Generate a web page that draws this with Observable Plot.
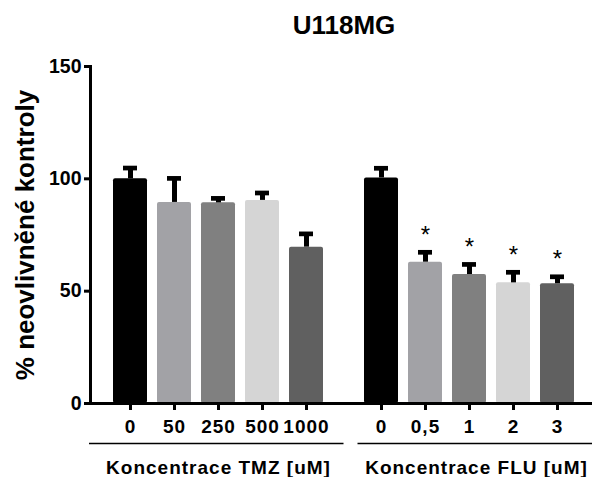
<!DOCTYPE html>
<html><head><meta charset="utf-8">
<script src="https://cdn.jsdelivr.net/npm/d3@7"></script>
<script src="https://cdn.jsdelivr.net/npm/@observablehq/plot@0.6"></script>
<style>
body{margin:0;background:#fff;}
#wrap{width:592px;font-family:"Liberation Sans",Arial,sans-serif;position:relative;}
#title{height:50px;line-height:50px;font-size:26px;font-weight:bold;text-align:center;padding-left:96px;box-sizing:border-box;width:592px;color:#000;position:relative;z-index:1;pointer-events:none;}
#chart{position:relative;z-index:0;}
g[aria-description="xlab"] text{letter-spacing:1px;}
</style></head><body>
<div id="wrap"><div id="title"></div><div id="chart"></div></div>
<script>
const title = "U118MG";
const yLabel = "% neovlivněné kontroly";
const groups = ["TMZ", "FLU"];
const groupLabels = ["Koncentrace TMZ [uM]", "Koncentrace FLU [uM]"];
const tmzLabels = ["0", "50", "250", "500", "1000"];
const tmzValues = [100, 89.5, 89.3, 90.4, 69.6];
const tmzErrors = [4.8, 10.7, 2.0, 3.3, 5.9];
const tmzStars = ["", "", "", "", ""];
const fluLabels = ["0", "0,5", "1", "2", "3"];
const fluValues = [100.4, 62.9, 57.4, 53.7, 53.3];
const fluErrors = [4.3, 4.4, 4.5, 4.7, 3.1];
const fluStars = ["", "*", "*", "*", "*"];
const yTicks = [0, 50, 100, 150];
const palette = ["#000000", "#a2a2a6", "#808080", "#d5d5d5", "#606060"];

document.getElementById("title").textContent = title;

function build(group, labels, values, errors, stars) {
  return labels.map((label, i) => ({group, slot: i, label, value: values[i], err: errors[i], star: stars[i], color: palette[i]}));
}
const rows = [
  ...build(groups[0], tmzLabels, tmzValues, tmzErrors, tmzStars),
  ...build(groups[1], fluLabels, fluValues, fluErrors, fluStars)
];
const groupRows = groups.map((g, i) => ({group: g, label: groupLabels[i]}));
const errTop = d => d.value + d.err;

const plot = Plot.plot({
  width: 592, height: 427,
  marginTop: 16, marginBottom: 74, marginLeft: 89, marginRight: 0,
  style: {fontFamily: "'Liberation Sans', Arial, sans-serif", fontWeight: "bold", color: "#000", background: "transparent", overflow: "visible"},
  fx: {domain: groups, paddingInner: 0, paddingOuter: 0, axis: null, label: null},
  x: {type: "band", domain: [0, 1, 2, 3, 4], paddingInner: 0.224, paddingOuter: 0, insetLeft: 22.5, insetRight: 17, label: null},
  y: {domain: [0, 150], label: null},
  marks: [
    Plot.barY(rows, {fx: "group", x: "slot", y: "value", fill: "color", rx: 2}),
    Plot.ruleX(rows, {fx: "group", x: "slot", y1: "value", y2: errTop, strokeWidth: 5, stroke: "#000"}),
    Plot.tickY(rows, {fx: "group", x: "slot", y: errTop, strokeWidth: 4.7, insetLeft: 10, insetRight: 10, stroke: "#000"}),
    Plot.text(rows.filter(d => d.star), {fx: "group", x: "slot", y: errTop, text: "star", lineAnchor: "bottom", dy: -9.5, fontSize: 24, fontWeight: "normal"}),
    Plot.ruleY([0], {strokeWidth: 3, insetLeft: -1.5}),
    Plot.frame({anchor: "left", strokeWidth: 3, facetAnchor: "left"}),
    Plot.axisY({ticks: yTicks, tickSize: 6, tickPadding: 3, strokeWidth: 3, fontSize: 19.5, label: null}),
    Plot.axisX({tickFormat: () => "", tickSize: 7, strokeWidth: 3, label: null}),
    Plot.text(rows, {fx: "group", x: "slot", text: "label", frameAnchor: "bottom", lineAnchor: "middle", dy: 23, fontSize: 19, ariaDescription: "xlab"}),
    Plot.ruleY(groupRows.filter(d => d.group === groups[0]), {fx: "group", y: 0, dy: 40, insetLeft: -1, insetRight: -2.5, strokeWidth: 1.5}),
    Plot.ruleY(groupRows.filter(d => d.group === groups[1]), {fx: "group", y: 0, dy: 40, insetLeft: 16.5, insetRight: 0, strokeWidth: 1.5}),
    Plot.text(groupRows.filter(d => d.group === groups[0]), {fx: "group", x: () => 2, text: "label", frameAnchor: "bottom", lineAnchor: "middle", dy: 64, fontSize: 19, ariaDescription: "xlab"}),
    Plot.text(groupRows.filter(d => d.group === groups[1]), {fx: "group", x: () => 2, text: "label", frameAnchor: "bottom", lineAnchor: "middle", dy: 64, dx: 7, fontSize: 19, ariaDescription: "xlab"}),
    Plot.text([yLabel], {text: d => d, frameAnchor: "left", textAnchor: "middle", lineAnchor: "middle", rotate: -90, dx: -65, fontSize: 26, facetAnchor: "left"})
  ]
});
document.getElementById("chart").appendChild(plot);
</script>
</body></html>
